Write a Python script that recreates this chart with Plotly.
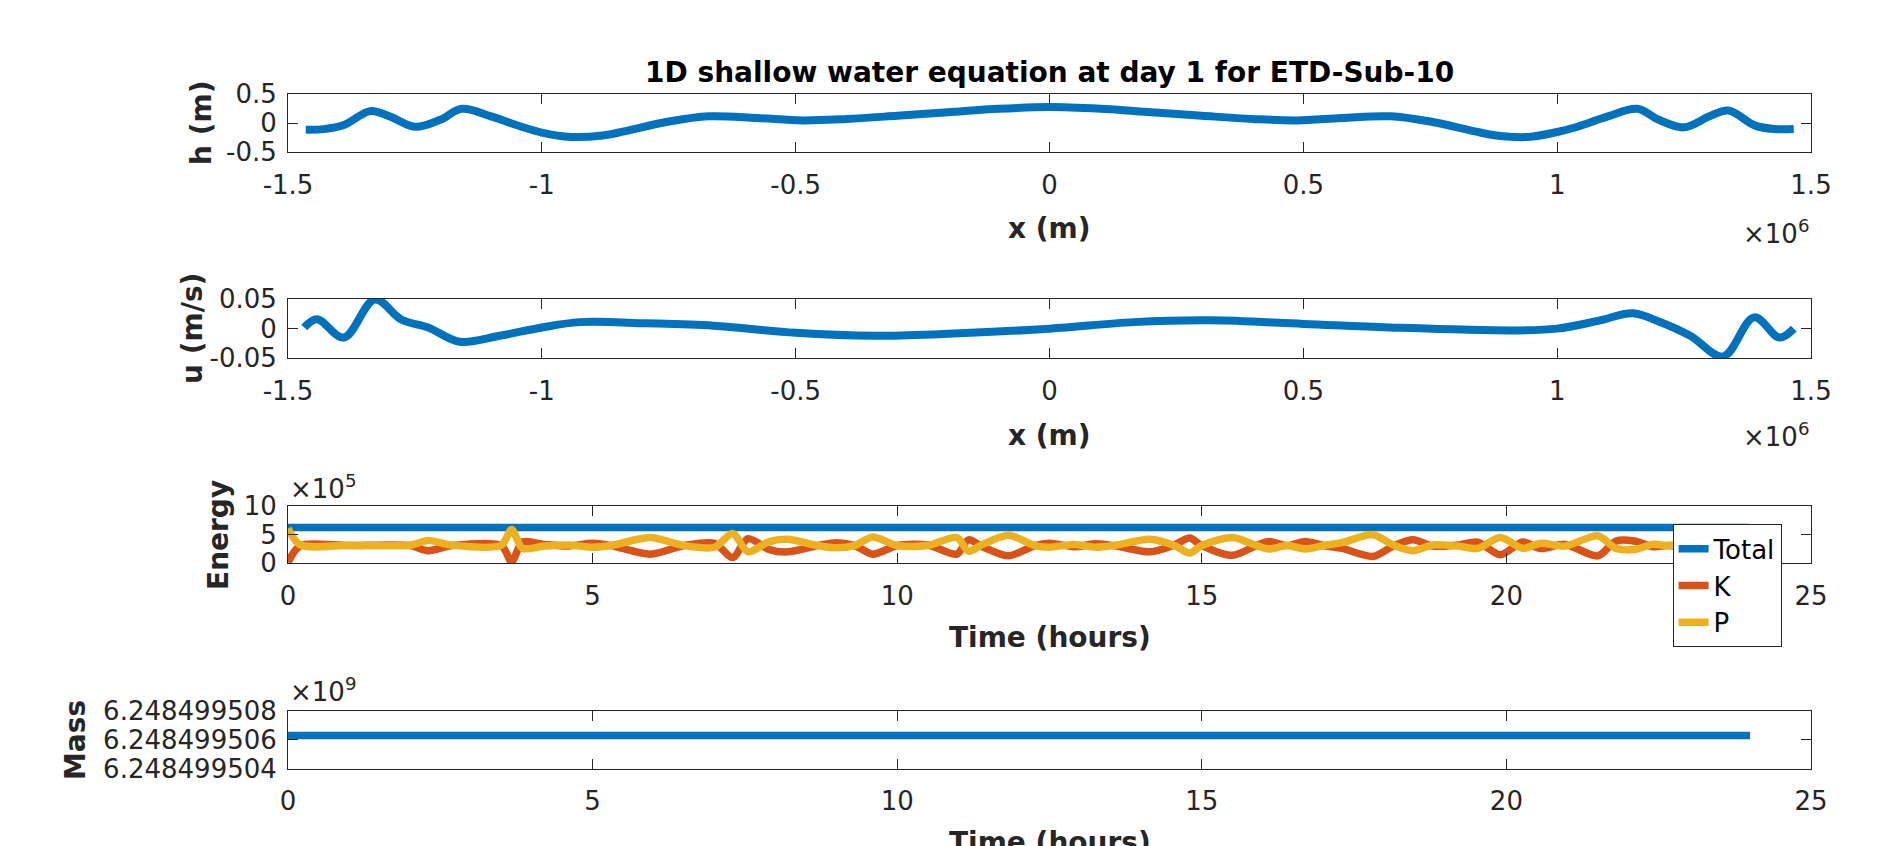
import plotly.graph_objects as go

# The page body has an 8 px margin, so the figure is 16 px smaller than the window
W, H = 1877, 838
OFF = 8

# ---------------- data ----------------
# panel 1: h (m) vs x (m)
h_x = [-1.465e6, -1.43e6, -1.39e6, -1.338e6, -1.30e6, -1.25e6, -1.20e6, -1.158e6, -1.10e6,
       -1.04e6, -1.00e6, -0.943e6, -0.88e6, -0.838e6, -0.75e6, -0.671e6, -0.575e6, -0.487e6,
       -0.40e6, -0.30e6, -0.20e6, -0.10e6, 0.0,
       0.10e6, 0.20e6, 0.30e6, 0.40e6, 0.487e6, 0.575e6, 0.671e6, 0.75e6, 0.838e6, 0.88e6,
       0.943e6, 1.00e6, 1.04e6, 1.10e6, 1.158e6, 1.20e6, 1.25e6, 1.30e6, 1.337e6, 1.39e6,
       1.43e6, 1.466e6]
h_val = [-0.11, -0.10, -0.03, 0.21, 0.12, -0.06, 0.06, 0.25, 0.12,
         -0.06, -0.16, -0.235, -0.21, -0.14, 0.03, 0.12, 0.09, 0.05,
         0.075, 0.13, 0.19, 0.25, 0.28,
         0.25, 0.19, 0.13, 0.075, 0.05, 0.09, 0.12, 0.03, -0.14, -0.21,
         -0.235, -0.15, -0.06, 0.12, 0.25, 0.06, -0.07, 0.12, 0.22, -0.04,
         -0.10, -0.10]

# panel 2: u (m/s) vs x (m)
u_x = [-1.468e6, -1.443e6, -1.39e6, -1.329e6, -1.276e6, -1.224e6, -1.162e6, -1.083e6,
       -1.0e6, -0.925e6, -0.794e6, -0.662e6, -0.5e6, -0.346e6, -0.21e6, 0.0,
       0.166e6, 0.317e6, 0.5e6, 0.67e6, 0.922e6, 1.0e6, 1.08e6, 1.149e6, 1.20e6,
       1.262e6, 1.327e6, 1.388e6, 1.438e6, 1.466e6]
u_val = [0.002, 0.016, -0.015, 0.049, 0.015, 0.002, -0.022, -0.012,
         0.002, 0.011, 0.009, 0.005, -0.007, -0.012, -0.009, 0.0,
         0.011, 0.014, 0.008, 0.002, -0.003, 0.0, 0.013, 0.026, 0.012,
         -0.012, -0.047, 0.019, -0.015, 0.0]

# panel 3: energy vs time (hours)
e_time = [0.0, 0.2, 1.0, 2.0, 2.3, 2.7, 3.5, 3.67, 3.85, 4.2, 4.6, 5.0, 5.3, 5.95, 6.5,
          7.0, 7.3, 7.55, 7.9, 8.2, 8.7, 9.0, 9.3, 9.6, 10.0, 10.5, 10.98, 11.17, 11.4,
          11.83, 12.26, 12.5, 12.9, 13.27, 13.6, 14.15, 14.55, 14.8, 15.0, 15.5, 15.9,
          16.1, 16.4, 16.7, 17.0, 17.3, 17.81, 18.16, 18.47, 18.79, 19.2, 19.53, 19.9,
          20.27, 20.56, 20.96, 21.5, 21.8, 22.1, 22.4, 22.66, 23.0, 23.4, 24.0]
e_total = [6.25e5] * len(e_time)
e_P = [6.1e5, 3.2e5, 3.15e5, 3.15e5, 4.0e5, 3.15e5, 3.15e5, 5.9e5, 2.6e5, 3.0e5, 3.2e5,
       2.8e5, 3.1e5, 4.5e5, 3.1e5, 2.8e5, 5.2e5, 2.0e5, 3.8e5, 4.2e5, 3.1e5, 2.7e5,
       3.1e5, 4.6e5, 3.1e5, 3.1e5, 4.5e5, 2.1e5, 3.3e5, 4.9e5, 3.1e5, 2.8e5, 3.3e5,
       2.8e5, 3.2e5, 4.2e5, 3.1e5, 1.8e5, 3.1e5, 4.5e5, 3.1e5, 2.5e5, 3.1e5, 2.5e5,
       3.1e5, 3.6e5, 5.0e5, 3.1e5, 2.2e5, 3.2e5, 3.0e5, 2.6e5, 4.5e5, 2.6e5, 3.5e5,
       3.0e5, 4.8e5, 2.6e5, 2.4e5, 3.3e5, 3.1e5, 3.5e5, 2.7e5, 3.1e5]
e_K = [0.15e5, 3.05e5, 3.1e5, 3.1e5, 2.2e5, 3.1e5, 3.1e5, 0.3e5, 3.7e5, 3.3e5, 3.0e5,
       3.5e5, 3.1e5, 1.6e5, 3.1e5, 3.5e5, 1.0e5, 4.3e5, 2.4e5, 2.0e5, 3.1e5, 3.6e5,
       3.1e5, 1.6e5, 3.1e5, 3.2e5, 1.6e5, 4.1e5, 2.9e5, 1.3e5, 3.1e5, 3.5e5, 2.9e5,
       3.4e5, 3.0e5, 2.0e5, 3.2e5, 4.4e5, 3.1e5, 1.4e5, 3.1e5, 3.8e5, 3.1e5, 3.8e5,
       3.1e5, 2.6e5, 1.2e5, 3.1e5, 4.1e5, 3.0e5, 3.2e5, 3.7e5, 1.5e5, 3.7e5, 2.6e5,
       3.3e5, 1.3e5, 3.9e5, 3.9e5, 2.9e5, 3.1e5, 2.7e5, 3.5e5, 3.1e5]

# panel 4: mass vs time (hours)
m_time = [0.0, 6.0, 12.0, 18.0, 24.0]
m_val = [6.2484995063e9, 6.2484995063e9, 6.2484995063e9, 6.2484995063e9, 6.2484995063e9]

# tick labels
x_tickvals = [-1.5e6, -1.0e6, -0.5e6, 0.0, 0.5e6, 1.0e6, 1.5e6]
x_ticktext = ["-1.5", "-1", "-0.5", "0", "0.5", "1", "1.5"]
h_tickvals = [-0.5, 0, 0.5]
h_ticktext = ["-0.5", "0", "0.5"]
u_tickvals = [-0.05, 0, 0.05]
u_ticktext = ["-0.05", "0", "0.05"]
t_tickvals = [0, 5, 10, 15, 20, 25]
t_ticktext = ["0", "5", "10", "15", "20", "25"]
e_tickvals = [0, 5e5, 10e5]
e_ticktext = ["0", "5", "10"]
m_tickvals = [6.248499504e9, 6.248499506e9, 6.248499508e9]
m_ticktext = ["6.248499504", "6.248499506", "6.248499508"]

# ---------------- style ----------------
BLUE, ORANGE, YELLOW = "#0072BD", "#D95319", "#EDB120"
AX = "#262626"
FONT = "DejaVu Sans, Liberation Sans, sans-serif"
TICK_SIZE = 26
LABEL_SIZE = 28
LW = 7.5


def px(x):
    return (x - OFF) / W


def py(y):
    return 1 - (y - OFF) / H


XL, XR = 288, 1811
panels = {  # top, bottom in window pixels
    1: (94.3, 152.3),
    2: (299.0, 358.3),
    3: (506.0, 563.3),
    4: (710.7, 769.0),
}

fig = go.Figure()

fig.add_trace(go.Scatter(x=h_x, y=h_val, mode="lines", line=dict(color=BLUE, width=LW + 0.5, shape="spline"),
                         showlegend=False, xaxis="x", yaxis="y"))
fig.add_trace(go.Scatter(x=u_x, y=u_val, mode="lines", line=dict(color=BLUE, width=LW + 0.5, shape="spline"),
                         showlegend=False, xaxis="x2", yaxis="y2"))
fig.add_trace(go.Scatter(x=e_time, y=e_total, mode="lines", name="Total",
                         line=dict(color=BLUE, width=LW), xaxis="x3", yaxis="y3"))
fig.add_trace(go.Scatter(x=e_time, y=e_K, mode="lines", name="K",
                         line=dict(color=ORANGE, width=LW, shape="spline", smoothing=0.8), xaxis="x3", yaxis="y3"))
fig.add_trace(go.Scatter(x=e_time, y=e_P, mode="lines", name="P",
                         line=dict(color=YELLOW, width=LW, shape="spline", smoothing=0.8), xaxis="x3", yaxis="y3"))
fig.add_trace(go.Scatter(x=m_time, y=m_val, mode="lines", line=dict(color=BLUE, width=LW),
                         showlegend=False, xaxis="x4", yaxis="y4"))

common = dict(showline=True, linecolor=AX, linewidth=1, mirror="ticks", ticks="inside",
              ticklen=10, tickwidth=1, tickcolor=AX, showgrid=False, zeroline=False,
              automargin=False,
              tickfont=dict(family=FONT, size=TICK_SIZE, color=AX), fixedrange=True)

xspecs = {
    1: (x_tickvals, x_ticktext, [-1.5e6, 1.5e6]),
    2: (x_tickvals, x_ticktext, [-1.5e6, 1.5e6]),
    3: (t_tickvals, t_ticktext, [0, 25]),
    4: (t_tickvals, t_ticktext, [0, 25]),
}
yspecs = {
    1: (h_tickvals, h_ticktext, [-0.5, 0.5]),
    2: (u_tickvals, u_ticktext, [-0.05, 0.05]),
    3: (e_tickvals, e_ticktext, [0, 10e5]),
    4: (m_tickvals, m_ticktext, [6.248499504e9, 6.248499508e9]),
}

layout = {}
for i in range(1, 5):
    top, bot = panels[i]
    xs = "" if i == 1 else str(i)
    tv, tt, rg = xspecs[i]
    layout["xaxis" + xs] = dict(common, domain=[px(XL), px(XR)], anchor="y" + xs,
                                tickvals=tv, ticktext=tt, range=rg, ticklabelstandoff=9)
    tv, tt, rg = yspecs[i]
    layout["yaxis" + xs] = dict(common, domain=[py(bot), py(top)], anchor="x" + xs,
                                tickvals=tv, ticktext=tt, range=rg, ticklabelstandoff=5)

fig.update_layout(**layout)

ann = []


def add_text(text, x, y, size, bold=False, angle=0, xanchor="center", yanchor="middle", color=AX):
    ann.append(dict(text=("<b>%s</b>" % text) if bold else text, x=px(x), y=py(y),
                    xref="paper", yref="paper", showarrow=False, textangle=angle,
                    xanchor=xanchor, yanchor=yanchor,
                    font=dict(family=FONT, size=size, color=color)))


XC = (XL + XR) / 2
add_text("1D shallow water equation at day 1 for ETD-Sub-10", XC, 72, LABEL_SIZE, bold=True, color="#000000")
add_text("x (m)", XC, 228, LABEL_SIZE, bold=True)
add_text("x (m)", XC, 436, LABEL_SIZE, bold=True)
add_text("Time (hours)", XC, 637, LABEL_SIZE, bold=True)
add_text("Time (hours)", XC, 842, LABEL_SIZE, bold=True)
add_text("h (m)", 201, 123, LABEL_SIZE, bold=True, angle=-90)
add_text("u (m/s)", 192, 329, LABEL_SIZE, bold=True, angle=-90)
add_text("Energy", 218, 535, LABEL_SIZE, bold=True, angle=-90)
add_text("Mass", 75, 740, LABEL_SIZE, bold=True, angle=-90)
add_text("\u00d710<sup>6</sup>", XR, 232, TICK_SIZE, xanchor="right")
add_text("\u00d710<sup>6</sup>", XR, 435, TICK_SIZE, xanchor="right")
add_text("\u00d710<sup>5</sup>", XL, 487, TICK_SIZE, xanchor="left")
add_text("\u00d710<sup>9</sup>", XL, 690, TICK_SIZE, xanchor="left")

fig.update_layout(
    template="none",
    width=W, height=H, autosize=False,
    margin=dict(l=0, r=0, t=0, b=0, pad=0),
    paper_bgcolor="white", plot_bgcolor="white",
    annotations=ann,
    legend=dict(x=px(1672.6), y=py(524.3), xanchor="left", yanchor="top",
                bgcolor="white", bordercolor=AX, borderwidth=1,
                font=dict(family=FONT, size=TICK_SIZE, color="#000000"),
                itemwidth=30, tracegroupgap=0),
)

fig.write_html("out.html", config={"displayModeBar": False})
